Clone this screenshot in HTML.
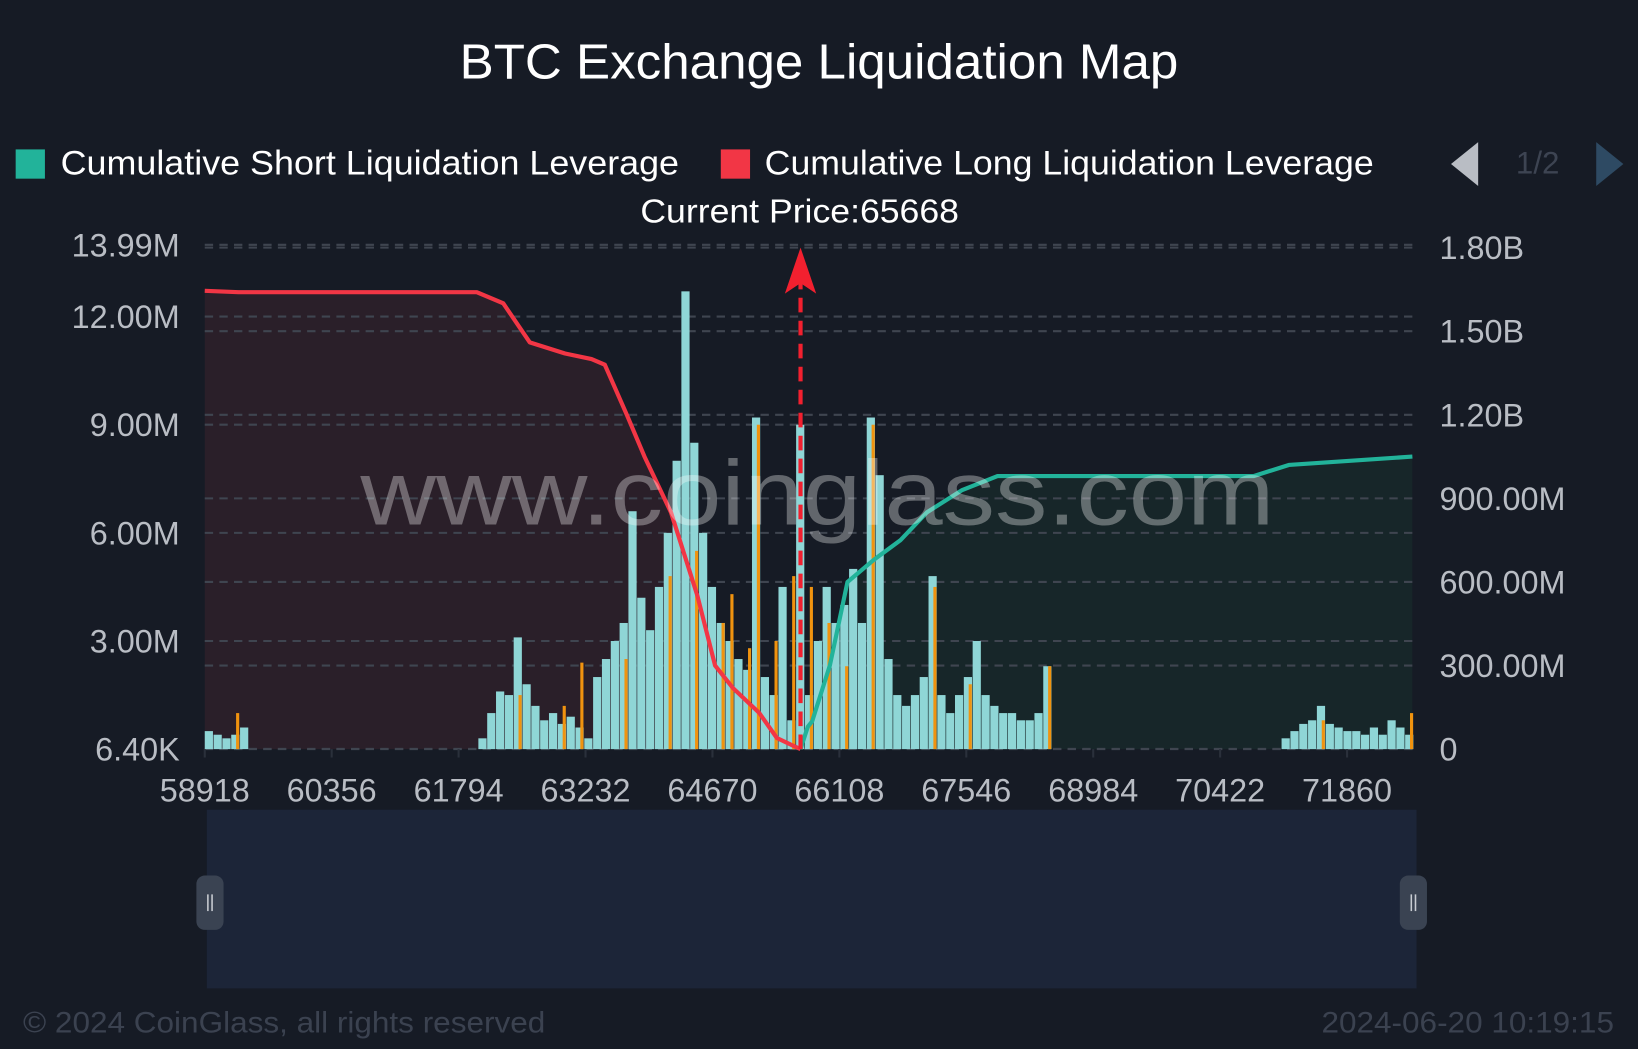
<!DOCTYPE html>
<html><head><meta charset="utf-8"><style>
html,body{margin:0;padding:0;background:#161b25;overflow:hidden}
svg{display:block;font-family:"Liberation Sans",sans-serif}
</style></head><body>
<svg id="chart" width="1638" height="1049" viewBox="0 0 1568 1004" preserveAspectRatio="none" xmlns="http://www.w3.org/2000/svg">
<rect width="1568" height="1004" fill="#161b25"/>
<text x="440" y="75" textLength="688" lengthAdjust="spacingAndGlyphs" font-size="47" fill="#ffffff">BTC Exchange Liquidation Map</text>
<g><rect x="15" y="143" width="28" height="28" fill="#22b39a"/><text x="58" y="167" textLength="592" lengthAdjust="spacingAndGlyphs" font-size="33" fill="#ffffff">Cumulative Short Liquidation Leverage</text></g>
<g><rect x="690" y="143" width="28" height="28" fill="#f23645"/><text x="732" y="167" textLength="583" lengthAdjust="spacingAndGlyphs" font-size="33" fill="#ffffff">Cumulative Long Liquidation Leverage</text></g>
<polygon points="1415,136 1415,178 1389,157" fill="#b9bdc4"/>
<text x="1472" y="166" font-size="30" fill="#3d4452" text-anchor="middle">1/2</text>
<polygon points="1528,136 1528,178 1554,157" fill="#2e4a63"/>
<text x="613" y="213" textLength="305" lengthAdjust="spacingAndGlyphs" font-size="32" fill="#ffffff">Current Price:65668</text>
<g id="plot"></g>
<text x="345" y="502" textLength="875" lengthAdjust="spacingAndGlyphs" font-size="88" fill="#ffffff" fill-opacity="0.33">www.coinglass.com</text>
<rect x="198" y="775" width="1158" height="171" fill="#1c2538"/>
<g><rect x="188" y="838" width="26" height="52" rx="8" fill="#3a4352"/><line x1="199" y1="856" x2="199" y2="872" stroke="#c8ccd2" stroke-width="1.5"/><line x1="203" y1="856" x2="203" y2="872" stroke="#c8ccd2" stroke-width="1.5"/></g>
<g><rect x="1340" y="838" width="26" height="52" rx="8" fill="#3a4352"/><line x1="1351" y1="856" x2="1351" y2="872" stroke="#c8ccd2" stroke-width="1.5"/><line x1="1355" y1="856" x2="1355" y2="872" stroke="#c8ccd2" stroke-width="1.5"/></g>
<text x="22" y="988" textLength="500" lengthAdjust="spacingAndGlyphs" font-size="28" fill="#3b4250">© 2024 CoinGlass, all rights reserved</text>
<text x="1265" y="988" textLength="280" lengthAdjust="spacingAndGlyphs" font-size="28" fill="#3b4250">2024-06-20 10:19:15</text>
</svg>
<script>
const binStart = 58918, binSize = 100;
const cyanValues = [0.5,0.4,0.3,0.4,0.6,0,0,0,0,0,0,0,0,0,0,0,0,0,0,0,0,0,0,0,0,0,0,0,0,0,0,0.3,
1.0,1.6,1.5,3.1,1.8,1.2,0.8,1.0,0.7,0.9,0.6,0.3,2.0,2.5,3.0,3.5,6.6,4.2,3.3,4.5,6.0,8.0,12.7,8.5,6.0,4.5,3.5,3.0,2.5,2.2,9.2,2.0,1.5,4.5,0.8,9.0,1.5,3.0,4.5,3.5,4.0,5.0,3.5,9.2,7.6,2.5,1.5,1.2,1.5,2.0,4.8,1.5,1.0,1.5,2.0,3.0,1.5,1.2,1.0,1.0,0.8,0.8,1.0,2.3,
0,0,0,0,0,0,0,0,0,0,0,0,0,0,0,0,0,0,0,0,0,0,0,0,0,0,
0.3,0.5,0.7,0.8,1.2,0.7,0.6,0.5,0.5,0.4,0.6,0.4,0.8,0.6,0.4];
const orangeBins = [3,35,40,42,47,52,55,58,59,61,62,64,66,68,70,72,75,82,86,95,126,136];
const orangeValues = [1.0,1.5,1.2,2.4,2.5,4.8,5.5,3.5,4.3,2.8,9.0,3.0,4.8,4.5,3.5,2.3,9.0,4.5,1.8,2.3,0.8,1.0];
const longPrices = [58918,59300,62000,62300,62600,63000,63300,63450,63700,63900,64200,64500,64700,64900,65200,65400,65600,65668];
const longValues = [1.645,1.64,1.64,1.60,1.46,1.42,1.40,1.38,1.20,1.05,0.85,0.55,0.30,0.22,0.13,0.04,0.01,0];
const shortPrices = [65668,65750,65800,66000,66200,66500,66800,67100,67500,67900,70800,71200,72600];
const shortValues = [0,0.08,0.1,0.3,0.6,0.68,0.75,0.85,0.93,0.98,0.98,1.02,1.05];
const leftTicks = [0.0064,3,6,9,12,13.99];
const leftTickLabels = ["6.40K","3.00M","6.00M","9.00M","12.00M","13.99M"];
const rightTicks = [0,0.3,0.6,0.9,1.2,1.5,1.8];
const rightTickLabels = ["0","300.00M","600.00M","900.00M","1.20B","1.50B","1.80B"];
const xTicks = [58918,60356,61794,63232,64670,66108,67546,68984,70422,71860];
const currentPrice = 65668;

const L=196,R=1352,T=237,B=717;
const pxPerPrice = 121.5/1438;
const x = p => L + (p-binStart)*pxPerPrice;
const yL = v => B - v*(103.5/3);
const yR = v => B - v*(80/0.3);
const NS="http://www.w3.org/2000/svg";
const plot=document.getElementById('plot');
function mk(tag,attrs){const e=document.createElementNS(NS,tag);for(const k in attrs)e.setAttribute(k,attrs[k]);plot.appendChild(e);return e;}

let pts=longPrices.map((p,i)=>x(p)+','+yR(longValues[i])).join(' ');
let a=mk('polygon',{points:x(binStart)+','+B+' '+pts+' '+x(currentPrice)+','+B,fill:'#2a1f29'});


let pts2=shortPrices.map((p,i)=>x(p)+','+yR(shortValues[i])).join(' ');
let a2=mk('polygon',{points:x(currentPrice)+','+B+' '+pts2+' '+R+','+yR(shortValues[shortValues.length-1])+' '+R+','+B,fill:'#172629'});



rightTicks.forEach(v=>{const g=mk('line',{x1:L,x2:R,y1:yR(v),y2:yR(v),stroke:'#3f4550','stroke-width':2,'stroke-dasharray':'8 6'});

});
leftTicks.forEach(v=>{const g=mk('line',{x1:L,x2:R,y1:yL(v),y2:yL(v),stroke:'#3f4550','stroke-width':2,'stroke-dasharray':'8 6'});

});

const bw=binSize*pxPerPrice;
cyanValues.forEach((v,i)=>{if(v<=0)return;const b=mk('rect',{x:x(binStart+i*binSize),y:yL(v),width:bw-0.6,height:B-yL(v),fill:'#8fd6d6'});

});
orangeBins.forEach((bi,k)=>{const v=orangeValues[k];const b=mk('rect',{x:x(binStart+bi*binSize)+bw*0.55,y:yL(v),width:3,height:B-yL(v),fill:'#f0930f'});

});

let l1=mk('polyline',{points:pts,fill:'none',stroke:'#f23645','stroke-width':4,'stroke-linejoin':'round'});


let l2=mk('polyline',{points:pts2,fill:'none',stroke:'#22b39a','stroke-width':4,'stroke-linejoin':'round'});



const cx=x(currentPrice);
let cl=mk('line',{x1:cx,x2:cx,y1:B,y2:270,stroke:'#f2202f','stroke-width':4,'stroke-dasharray':'14 8'});


let ar=mk('polygon',{points:`${cx},${T} ${cx-15},${T+44} ${cx},${T+34} ${cx+15},${T+44}`,fill:'#f2202f'});



leftTicks.forEach((v,i)=>{const t=mk('text',{x:172,y:yL(v)+11,'text-anchor':'end','font-size':31,fill:'#b9bdc4'});t.textContent=leftTickLabels[i];

});
rightTicks.forEach((v,i)=>{const t=mk('text',{x:1378,y:yR(v)+11,'font-size':31,fill:'#b9bdc4'});t.textContent=rightTickLabels[i];

});
xTicks.forEach(p=>{const tk=mk('line',{x1:x(p),x2:x(p),y1:B,y2:B+8,stroke:'#2a303b','stroke-width':2});


const t=mk('text',{x:x(p),y:767,'text-anchor':'middle','font-size':31,fill:'#b9bdc4'});t.textContent=String(p);

});
</script>
</body></html>
